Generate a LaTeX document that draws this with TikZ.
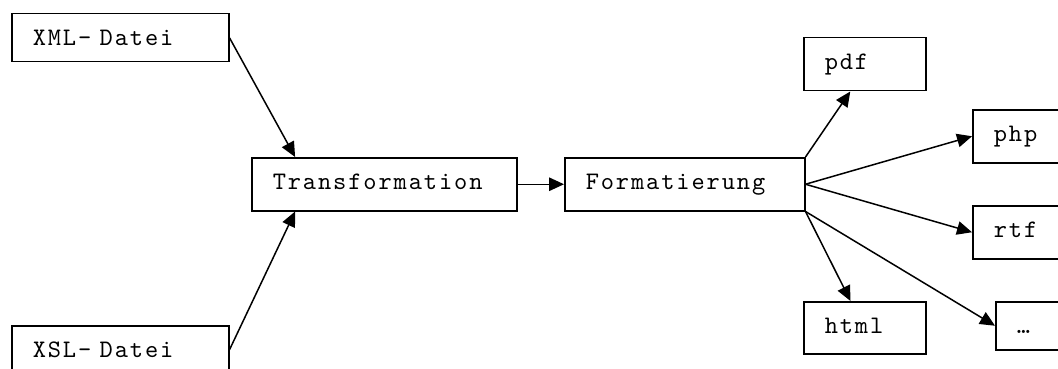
\documentclass[tikz,border=0pt]{standalone}
\usepackage{fontspec}
\usetikzlibrary{arrows.meta}
\newfontfamily\schrift[LetterSpace=7.5]{lmmono10-regular.otf}
\newcommand{\schriftart}[0]{\schrift\fontsize{25.2}{30}\selectfont}
\tikzset{strich/.style={line width=1.5pt}}
% name, Ecke oben links, Textbreite, Tiefe, Text
\newcommand{\kasten}[5]{\node[draw, strich, anchor=north west, align=left,
	font=\schriftart, inner xsep=21pt, inner ysep=0pt, text height=32pt,
	text depth=#4, text width=#3] (#1) at (#2) {#5}}
\newcommand{\pfeil}[2]{\draw[strich, -{Triangle[length=15pt,width=13.5pt]}] (#1) -- (#2)}

\begin{document}
\begin{tikzpicture}[x=1pt,y=-1pt]
	\useasboundingbox (0,0) rectangle (1058,369);
	\fill[white] (0,0) rectangle (1058,369);
	\clip (0,0) rectangle (1058,369);
	\kasten{xml}{11,13}{175pt}{16pt}{XML- Datei};
	\kasten{xsl}{11,325}{175pt}{16pt}{XSL- Datei};
	\kasten{trafo}{251,157}{223pt}{21pt}{Transformation};
	\kasten{format}{564,157}{198pt}{21pt}{Formatierung};
	\kasten{pdf}{803,37}{80pt}{21pt}{pdf};
	\kasten{php}{972,109}{80pt}{21pt}{php};
	\kasten{rtf}{972,205}{80pt}{21pt}{rtf};
	\kasten{html}{803,301}{80pt}{20pt}{html};
	\kasten{dots}{995,301}{80pt}{16pt}{…};
	\pfeil{xml.east}{trafo.163};
	\pfeil{xsl.east}{trafo.197};
	\pfeil{trafo.east}{format.west};
	\pfeil{format.north east}{pdf.242};
	\pfeil{format.east}{php.west};
	\pfeil{format.east}{rtf.west};
	\pfeil{format.south east}{html.118};
	\pfeil{format.south east}{dots.west};
\end{tikzpicture}
\end{document}
